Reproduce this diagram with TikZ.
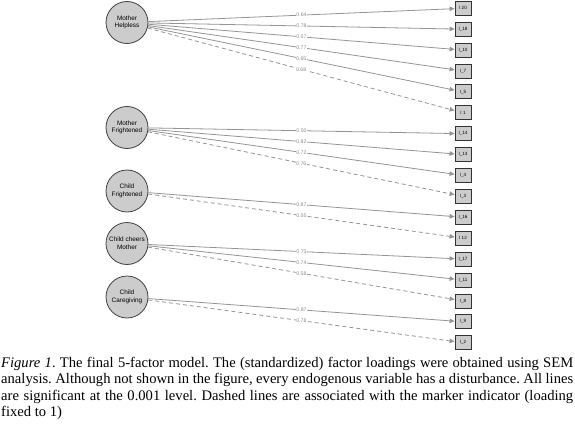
\documentclass[tikz,border=0pt]{standalone}
\usepackage{fontspec}
\setmainfont{Liberation Serif}
\setsansfont{Liberation Sans}
\usetikzlibrary{arrows.meta}

\begin{document}
\begin{tikzpicture}[x=1pt,y=-1pt,
    factor/.style={circle,draw=black!75,fill=black!20,line width=.8pt,
      minimum size=42pt,inner sep=0pt,align=center,
      font=\fontsize{6.4}{7.6}\selectfont\sffamily},
    ind/.style={rectangle,draw=black!80,fill=black!20,line width=.8pt,
      minimum width=16pt,minimum height=14pt,inner sep=0pt,
      font=\fontsize{4.6}{5}\selectfont\sffamily},
    load/.style={draw=black!42,line width=.8pt,
      -{Triangle[length=5pt,width=4.5pt,fill=black!42]}},
    marker/.style={dash pattern=on 4pt off 3pt},
    lbl/.style={fill=white,inner sep=.6pt,text=black!45,
      font=\fontsize{5.2}{6}\selectfont\sffamily}]
  \useasboundingbox (0,0) rectangle (575,425);

  %% latent factors
  \node[factor] (mh)  at (127,22.5)  {Mother\\Helpless};
  \node[factor] (mf)  at (127,127.5) {Mother\\Frightened};
  \node[factor] (cf)  at (127,191)   {Child\\Frightened};
  \node[factor] (ccm) at (127,243.5) {Child cheers\\Mother};
  \node[factor] (cc)  at (127,297)   {Child\\Caregiving};

  %% indicators
  \foreach \nm/\lab [count=\i] in {i20/I 20, i18/I\_18, i10/I\_10, i7/I\_7,
      i5/I\_5, i1/I 1, i14/I\_14, i13/I\_13, i4/I\_4, i3/I\_3, i16/I\_16,
      i12/I 12, i17/I\_17, i11/I\_11, i8/I\_8, i9/I\_9, i2/I\_2}
    \node[ind] (\nm) at (463,{8.3+(\i-1)*20.9}) {\lab};

  %% loadings (marker indicator dashed)
  \foreach \f/\b/\l in {mh/i20/0.64, mh/i18/0.78, mh/i10/0.57, mh/i7/0.77,
      mh/i5/0.65, mf/i14/0.50, mf/i13/0.82, mf/i4/0.72, cf/i16/0.87,
      ccm/i17/0.73, ccm/i11/0.74, cc/i9/0.87}
    \draw[load] (\f) -- node[lbl] {\l} (\b);
  \foreach \f/\b/\l in {mh/i1/0.68, mf/i3/0.76, cf/i12/0.55, ccm/i8/0.58,
      cc/i2/0.78}
    \draw[load,marker] (\f) -- node[lbl] {\l} (\b);

  %% caption
  \node[anchor=north west,inner sep=0pt,text width=572pt,align=justify,
    font=\fontsize{14.6}{16.4}\selectfont\frenchspacing] (cap) at (1,357)
    {\textit{Figure 1}. The final 5-factor model. The (standardized) factor
    loadings were obtained using SEM\linebreak analysis. Although not shown in
    the figure, every endogenous variable has a disturbance. All
    lines\linebreak are significant at the 0.001 level. Dashed lines are
    associated with the marker indicator (loading\linebreak fixed to 1)};
\end{tikzpicture}
\end{document}
